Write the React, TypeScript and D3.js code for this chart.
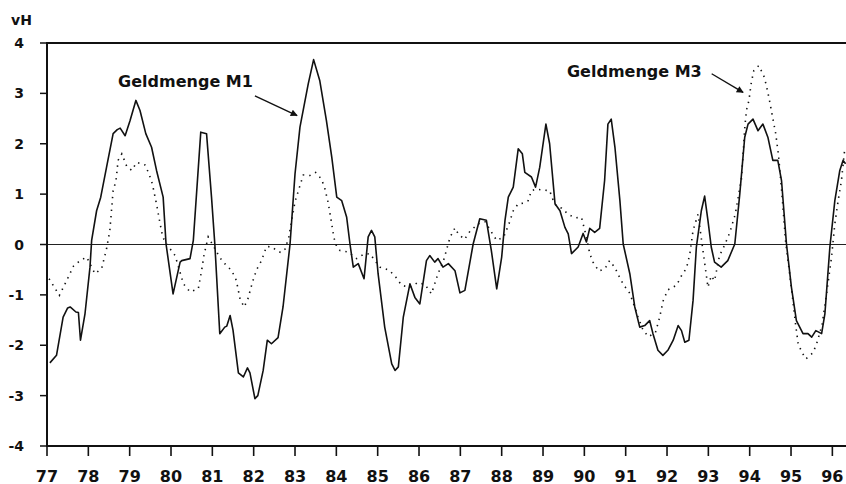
import * as d3 from "d3";

// Geldmenge M1 (solid) — Verlaufswerte
const m1Years = [
  77.07, 77.23, 77.39, 77.5, 77.56, 77.7, 77.76, 77.81, 77.92, 78.04, 78.08, 78.2, 78.3, 78.44,
  78.6, 78.7, 78.77, 78.89, 79.01, 79.15, 79.25, 79.39, 79.53, 79.65, 79.81, 79.88, 80.05, 80.22,
  80.26, 80.46, 80.54, 80.72, 80.86, 80.98, 81.06, 81.18, 81.3, 81.35, 81.43, 81.5, 81.63, 81.75,
  81.85, 81.91, 82.03, 82.1, 82.23, 82.33, 82.43, 82.59, 82.71, 82.88, 83.0, 83.12, 83.32, 83.45,
  83.6, 83.76, 83.89, 84.01, 84.13, 84.25, 84.33, 84.41, 84.53, 84.67, 84.77, 84.85, 84.93, 85.01,
  85.17, 85.34, 85.42, 85.5, 85.62, 85.78, 85.9, 86.02, 86.18, 86.26, 86.38, 86.46, 86.58, 86.71,
  86.87, 86.99, 87.11, 87.31, 87.47, 87.63, 87.75, 87.88, 88.0, 88.08, 88.16, 88.28, 88.4, 88.5,
  88.56, 88.72, 88.82, 88.92, 89.07, 89.16, 89.29, 89.41, 89.53, 89.61, 89.69, 89.85, 89.97, 90.05,
  90.13, 90.25, 90.37, 90.49, 90.57, 90.65, 90.74, 90.86, 90.94, 91.1, 91.22, 91.34, 91.46, 91.58,
  91.66, 91.78, 91.9, 92.02, 92.15, 92.27, 92.35, 92.43, 92.53, 92.63, 92.71, 92.83, 92.91, 92.99,
  93.07, 93.15, 93.31, 93.47, 93.64, 93.76, 93.88, 93.96, 94.08, 94.2, 94.32, 94.44, 94.56, 94.68,
  94.77, 94.89, 95.01, 95.13, 95.29, 95.41, 95.5, 95.6, 95.74, 95.82, 95.94, 96.06, 96.18, 96.26,
  96.32,
];
const m1Values = [
  -2.35, -2.2, -1.44, -1.26, -1.24, -1.34, -1.35, -1.9, -1.37, -0.45, 0.08, 0.67, 0.94, 1.53,
  2.2, 2.28, 2.31, 2.16, 2.46, 2.86, 2.66, 2.2, 1.93, 1.47, 0.94, 0.01, -0.98, -0.35,
  -0.32, -0.28, 0.08, 2.23, 2.2, 0.94, 0.01, -1.77, -1.64, -1.62, -1.41, -1.7, -2.55, -2.63,
  -2.45, -2.55, -3.06, -3.0, -2.5, -1.9, -1.97, -1.85, -1.24, 0.01, 1.4, 2.33, 3.19, 3.67,
  3.25, 2.46, 1.73, 0.94, 0.87, 0.54, 0.01, -0.45, -0.38, -0.68, 0.15, 0.28, 0.15, -0.58,
  -1.64, -2.37, -2.5, -2.43, -1.44, -0.78, -1.05, -1.18, -0.32, -0.22, -0.35, -0.28, -0.45, -0.38,
  -0.52, -0.96, -0.91, 0.01, 0.51, 0.48, -0.12, -0.88, -0.25, 0.48, 0.94, 1.14, 1.9, 1.8,
  1.43, 1.34, 1.14, 1.53, 2.39, 2.0, 0.81, 0.67, 0.34, 0.21, -0.18, -0.05, 0.22, 0.05,
  0.32, 0.24, 0.32, 1.27, 2.39, 2.49, 1.93, 0.87, 0.01, -0.58, -1.24, -1.64, -1.61, -1.51,
  -1.77, -2.1, -2.2, -2.1, -1.9, -1.61, -1.71, -1.94, -1.9, -1.11, -0.05, 0.67, 0.96, 0.48,
  -0.05, -0.35, -0.45, -0.32, 0.01, 1.0, 2.13, 2.39, 2.49, 2.26, 2.39, 2.13, 1.67, 1.67,
  1.27, 0.01, -0.85, -1.51, -1.77, -1.77, -1.84, -1.71, -1.77, -1.37, -0.05, 0.87, 1.47, 1.67,
  1.6,
];

// Geldmenge M3 (dotted)
const m3Years = [
  77.05, 77.3, 77.48, 77.64, 77.8, 77.96, 78.16, 78.32, 78.44, 78.52, 78.56, 78.6, 78.67, 78.72,
  78.81, 78.93, 79.05, 79.17, 79.37, 79.47, 79.55, 79.65, 79.73, 79.8, 79.9, 80.1, 80.3, 80.46,
  80.66, 80.74, 80.8, 80.9, 81.02, 81.18, 81.3, 81.47, 81.58, 81.67, 81.77, 81.86, 81.97, 82.07,
  82.19, 82.31, 82.45, 82.55, 82.66, 82.76, 82.85, 83.0, 83.2, 83.36, 83.5, 83.64, 83.72, 83.8,
  83.87, 83.94, 84.01, 84.09, 84.29, 84.49, 84.65, 84.81, 85.05, 85.28, 85.44, 85.58, 85.78, 85.98,
  86.15, 86.3, 86.38, 86.45, 86.6, 86.75, 86.87, 86.95, 87.1, 87.23, 87.43, 87.6, 87.75, 87.88,
  88.05, 88.19, 88.28, 88.4, 88.52, 88.64, 88.72, 88.84, 89.0, 89.16, 89.28, 89.45, 89.61, 89.77,
  89.93, 90.05, 90.13, 90.21, 90.35, 90.5, 90.61, 90.74, 90.85, 90.95, 91.1, 91.2, 91.3, 91.42,
  91.55, 91.72, 91.82, 91.91, 92.02, 92.23, 92.35, 92.47, 92.55, 92.63, 92.75, 92.88, 92.99, 93.07,
  93.15, 93.27, 93.4, 93.52, 93.65, 93.8, 93.88, 93.92, 93.98, 94.04, 94.1, 94.22, 94.34, 94.4,
  94.47, 94.56, 94.63, 94.7, 94.78, 94.87, 94.97, 95.05, 95.12, 95.17, 95.25, 95.36, 95.53, 95.62,
  95.75, 95.86, 95.98, 96.06, 96.14, 96.22, 96.3,
];
const m3Values = [
  -0.68, -1.01, -0.71, -0.43, -0.32, -0.25, -0.58, -0.48, -0.09, 0.28, 0.67, 1.07, 1.27, 1.67,
  1.8, 1.55, 1.47, 1.63, 1.58, 1.4, 1.2, 0.8, 0.44, 0.15, 0.0, -0.22, -0.78, -0.94,
  -0.88, -0.52, -0.2, 0.15, -0.02, -0.26, -0.38, -0.52, -0.71, -1.08, -1.24, -1.08, -0.75, -0.5,
  -0.32, -0.04, -0.05, -0.12, -0.16, -0.09, 0.15, 0.85, 1.38, 1.37, 1.43, 1.3, 1.12, 0.84,
  0.5, 0.14, -0.05, -0.12, -0.15, -0.28, -0.2, -0.18, -0.45, -0.51, -0.65, -0.81, -0.85, -0.75,
  -0.8, -0.98, -0.78, -0.6, -0.3, 0.14, 0.33, 0.21, 0.1, 0.26, 0.41, 0.45, 0.25, 0.08,
  0.15, 0.44, 0.67, 0.81, 0.82, 0.87, 1.07, 1.1, 1.08, 1.07, 0.8, 0.72, 0.6, 0.53,
  0.54, 0.15, -0.18, -0.35, -0.53, -0.48, -0.32, -0.46, -0.65, -0.8, -0.97, -1.2, -1.44, -1.7,
  -1.83, -1.75, -1.45, -1.11, -0.9, -0.81, -0.62, -0.47, -0.2, 0.28, 0.6, -0.18, -0.85, -0.62,
  -0.72, -0.22, 0.0, 0.24, 0.6, 1.3, 2.3, 2.66, 2.85, 3.22, 3.45, 3.55, 3.35, 3.17,
  2.9, 2.5, 2.2, 1.75, 1.0, 0.05, -0.6, -1.15, -1.65, -1.95, -2.12, -2.27, -2.15, -1.97,
  -1.6, -0.98, -0.25, 0.41, 0.87, 1.27, 1.9,
];

const yearTicks = [77, 78, 79, 80, 81, 82, 83, 84, 85, 86, 87, 88, 89, 90, 91, 92, 93, 94, 95, 96];
const valueTicks = [-4, -3, -2, -1, 0, 1, 2, 3, 4];

const W = 846;
const H = 484;
const FONT = "'DejaVu Sans', Arial, sans-serif";

export default function App() {
  const x = d3.scaleLinear().domain([77, 96.33]).range([47, 846]);
  const y = d3.scaleLinear().domain([-4, 4]).range([446, 43]);

  const line = d3
    .line<[number, number]>()
    .x((d) => x(d[0]))
    .y((d) => y(d[1]));

  const m1 = m1Years.map((yr, i) => [yr, m1Values[i]] as [number, number]);
  const m3 = m3Years.map((yr, i) => [yr, m3Values[i]] as [number, number]);

  const left = x(77);
  const right = W;

  return (
    <svg
      width={W}
      height={H}
      style={{ position: "absolute", left: 0, top: 0, background: "#fff" }}
    >
      <defs>
        <marker
          id="arrow"
          viewBox="0 0 10 10"
          refX={9}
          refY={5}
          markerWidth={9}
          markerHeight={7}
          markerUnits="userSpaceOnUse"
          orient="auto"
        >
          <path d="M0,0 L10,5 L0,10 z" fill="#111" />
        </marker>
      </defs>

      {/* frame lines */}
      <line x1={left} x2={right} y1={y(4)} y2={y(4)} stroke="#111" strokeWidth={2} />
      <line x1={left} x2={right} y1={y(0)} y2={y(0)} stroke="#222" strokeWidth={1.2} />
      <line x1={left} x2={right} y1={y(-4)} y2={y(-4)} stroke="#111" strokeWidth={2} />
      <line x1={left} x2={left} y1={y(4) - 1} y2={y(-4) + 1} stroke="#111" strokeWidth={2} />

      {/* y axis */}
      {valueTicks.map((v) => (
        <g key={"y" + v}>
          <line x1={left - 7} x2={left} y1={y(v)} y2={y(v)} stroke="#111" strokeWidth={1.5} />
          <text
            x={24}
            y={y(v)}
            textAnchor="end"
            dominantBaseline="central"
            fontFamily={FONT}
            fontWeight="bold"
            fontSize={14}
            fill="#111"
          >
            {v}
          </text>
        </g>
      ))}
      <text x={11} y={25} fontFamily={FONT} fontWeight="bold" fontSize={14} fill="#111">
        vH
      </text>

      {/* x axis */}
      {yearTicks.map((t) => (
        <g key={"x" + t}>
          <line x1={x(t)} x2={x(t)} y1={y(-4)} y2={y(-4) + 10} stroke="#111" strokeWidth={1.6} />
          <text
            x={x(t)}
            y={476}
            textAnchor="middle"
            dominantBaseline="central"
            fontFamily={FONT}
            fontWeight="bold"
            fontSize={16}
            fill="#111"
          >
            {t}
          </text>
        </g>
      ))}

      {/* series */}
      <path
        d={line(m3) ?? ""}
        fill="none"
        stroke="#111"
        strokeWidth={1.6}
        strokeDasharray="1.4 5"
      />
      <path d={line(m1) ?? ""} fill="none" stroke="#111" strokeWidth={1.6} strokeLinejoin="round" />

      {/* annotations */}
      <text x={x(78.72)} y={y(3.13)} fontFamily={FONT} fontWeight="bold" fontSize={16} fill="#111">
        Geldmenge M1
      </text>
      <line
        x1={x(82.03)}
        y1={y(2.95)}
        x2={x(83.05)}
        y2={y(2.56)}
        stroke="#111"
        strokeWidth={1.4}
        markerEnd="url(#arrow)"
      />
      <text x={x(89.58)} y={y(3.33)} fontFamily={FONT} fontWeight="bold" fontSize={16} fill="#111">
        Geldmenge M3
      </text>
      <line
        x1={x(93.08)}
        y1={y(3.39)}
        x2={x(93.84)}
        y2={y(3.02)}
        stroke="#111"
        strokeWidth={1.4}
        markerEnd="url(#arrow)"
      />
    </svg>
  );
}
